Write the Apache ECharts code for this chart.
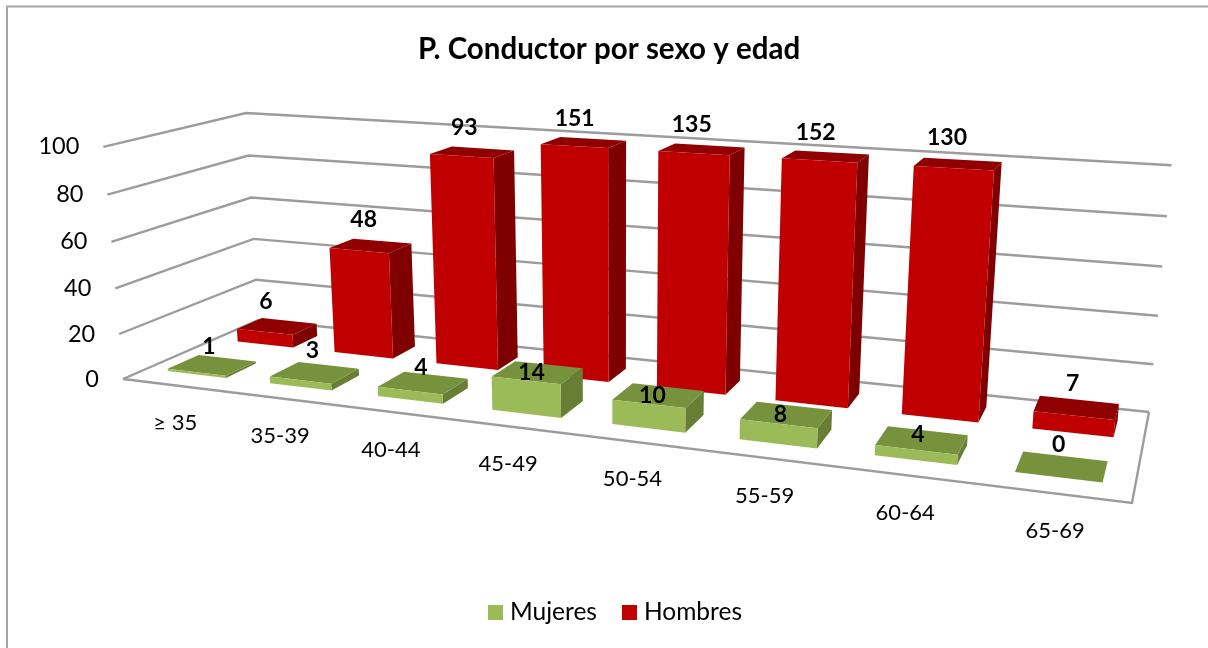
<!DOCTYPE html>
<html>
<head>
<meta charset="utf-8">
<style>html,body{margin:0;padding:0;background:#fff}#main{width:1208px;height:648px}</style>
<script src="https://cdn.jsdelivr.net/npm/echarts@6/dist/echarts.min.js"></script>
</head>
<body>
<div id="main"></div>
<script>
var categories = ['≥ 35', '35-39', '40-44', '45-49', '50-54', '55-59', '60-64', '65-69'];
var mujeres = [1, 3, 4, 14, 10, 8, 4, 0];
var hombres = [6, 48, 93, 151, 135, 152, 130, 7];
var yTicks = [0, 20, 40, 60, 80, 100];

var myChart = echarts.init(document.getElementById('main'));
var font = 'Lato';

// perspective of the 3D box: floor corners on screen plus the vanishing point of the verticals
var FL = [123, 379], FR = [1132, 503], BR = [1149, 412], BL = [258.5, 320];
var vanish = [622, 6331], topBL = 113;
var dx1 = FR[0] - BR[0], dx2 = BL[0] - BR[0], sx = FL[0] - FR[0] + BR[0] - BL[0];
var dy1 = FR[1] - BR[1], dy2 = BL[1] - BR[1], sy = FL[1] - FR[1] + BR[1] - BL[1];
var den = dx1 * dy2 - dx2 * dy1;
var g = (sx * dy2 - dx2 * sy) / den, h = (dx1 * sy - sx * dy1) / den;
var a = FR[0] - FL[0] + g * FR[0], b = BL[0] - FL[0] + h * BL[0];
var d = FR[1] - FL[1] + g * FR[1], e = BL[1] - FL[1] + h * BL[1];
var k = (h + 1) * (topBL - BL[1]) / (vanish[1] - topBL);

// u along categories, v up the value axis, w into the depth (all 0..1)
function project(u, v, w) {
    var q = g * u + h * w + 1 + k * v;
    return [
        (a * u + b * w + FL[0] + k * vanish[0] * v) / q,
        // the last term is a hand fit, the original box is not quite a pure perspective
        (d * u + e * w + FL[1] + k * vanish[1] * v) / q + v * (6 * u + 2 * (1 - u) * (1 - w))
    ];
}

// bar geometry comes from the hidden cartesian axes
function axisPos(params, api, i, value) {
    var sys = params.coordSys;
    var p = api.coord([i, value]);
    return {
        u: (p[0] - sys.x) / sys.width,
        v: Math.min(1, (sys.y + sys.height - p[1]) / sys.height),
        band: api.size([1, 0])[0] / sys.width
    };
}

function poly(points, color) {
    return {type: 'polygon', shape: {points: points}, style: {fill: color}};
}

function label(text, pos, size, weight, align) {
    return {
        type: 'text', z2: 50,
        style: {
            text: text, x: pos[0], y: pos[1], fill: '#000',
            font: (weight || 'normal') + ' ' + size + 'px ' + font,
            align: align || 'center', verticalAlign: 'middle'
        }
    };
}

function barRenderer(w0, w1, colors, nudge, labelDx, labelDy) {
    return function (params, api) {
        var i = api.value(0), val = api.value(1);
        var pos = axisPos(params, api, i, val);
        var half = pos.band * 0.29;
        var uc = pos.u + nudge[i];
        var u0 = uc - half, u1 = uc + half, v = pos.v;
        var top = project(uc, v, (w0 + w1) / 2);
        var kids = [];
        if (v > 0) {
            kids.push(poly([project(u1, 0, w0), project(u1, 0, w1), project(u1, v, w1), project(u1, v, w0)], colors.side));
        }
        kids.push(poly([project(u0, v, w0), project(u1, v, w0), project(u1, v, w1), project(u0, v, w1)], colors.top));
        if (v > 0) {
            kids.push(poly([project(u0, 0, w0), project(u1, 0, w0), project(u1, v, w0), project(u0, v, w0)], colors.front));
        }
        kids.push(label(String(val), [top[0] + labelDx[i], top[1] + labelDy[i]], 23, 'bold'));
        return {type: 'group', children: kids};
    };
}

var wallColor = '#9C9C9C';

function renderWall(params, api) {
    var sys = params.coordSys;
    var tick = api.value(0);
    var v = (sys.y + sys.height - api.coord([0, tick])[1]) / sys.height;
    var front = project(0, v, 0);
    var kids = [{
        type: 'polyline',
        shape: {points: [front, project(0, v, 1), project(1, v, 1)]},
        style: {stroke: wallColor, lineWidth: 2.4, fill: null}
    }];
    kids.push(label(String(tick), [front[0] - 24, front[1]], 23.5, 'normal', 'right'));
    if (tick === 0) {
        kids.push({
            type: 'polyline',
            shape: {points: [FL, FR, BR]},
            style: {stroke: wallColor, lineWidth: 2.4, fill: null}
        });
    }
    return {type: 'group', children: kids};
}

function renderCategory(params, api) {
    var pos = axisPos(params, api, api.value(0), 0);
    var p = project(pos.u, 0, 0);
    return label(categories[api.value(0)], [p[0] + 2, p[1] + 38], 22);
}

function pairs(values) {
    return values.map(function (v, i) { return [i, v]; });
}

var option = {
    animation: false,
    backgroundColor: '#fff',
    title: {
        text: 'P. Conductor por sexo y edad',
        left: 413, top: 29,
        textStyle: {fontFamily: font, fontWeight: 'bold', fontSize: 29.5, color: '#000'}
    },
    legend: {
        data: ['Mujeres', 'Hombres'],
        left: 483, top: 595,
        icon: 'rect', itemWidth: 15, itemHeight: 15, itemGap: 25,
        textStyle: {fontFamily: font, fontSize: 24.5, color: '#000', padding: [0, 0, 0, 2]},
        selectedMode: false
    },
    grid: {left: 100, top: 100, width: 800, height: 400, show: false},
    xAxis: {type: 'category', data: categories, show: false},
    yAxis: {type: 'value', min: 0, max: 100, interval: 20, show: false},
    graphic: [{
        type: 'polyline',
        shape: {points: [[7, 648], [7, 6.5], [1208, 6.5]]},
        style: {stroke: '#A6A6A6', lineWidth: 2, fill: null}
    }],
    series: [
        {
            name: 'walls', type: 'custom', z: 1,
            renderItem: renderWall, encode: {y: 0},
            data: yTicks.map(function (t) { return [t]; }),
            silent: true
        },
        {
            name: 'categories', type: 'custom', z: 2,
            renderItem: renderCategory, encode: {x: 0},
            data: categories.map(function (c, i) { return [i]; }),
            silent: true
        },
        {
            name: 'Mujeres', type: 'custom', z: 4,
            itemStyle: {color: '#9BBB59'},
            encode: {x: 0, y: 1}, data: pairs(mujeres), silent: true,
            renderItem: barRenderer(0.16, 0.38,
                {front: '#9BBB59', top: '#76923C', side: '#677E34'},
                [0, 0.001, 0.002, 0.003, 0.003, 0.003, 0.003, 0],
                [-3, -2, -2, -6, -6, -6, -4, -3],
                [-18, -22, -15, 0, 0, 0, -5, -22])
        },
        {
            name: 'Hombres', type: 'custom', z: 3,
            itemStyle: {color: '#C00000'},
            encode: {x: 0, y: 1}, data: pairs(hombres), silent: true,
            renderItem: barRenderer(0.65, 0.85,
                {front: '#C00000', top: '#900000', side: '#7F0000'},
                [0.004, 0.004, 0.004, 0.004, 0.004, 0.003, 0.003, 0],
                [-11, -7, -8, -9, -10, -10, -11, -4],
                [-25, -26, -25, -24, -25, -24, -26, -24])
        }
    ]
};

myChart.setOption(option);
</script>
</body>
</html>
